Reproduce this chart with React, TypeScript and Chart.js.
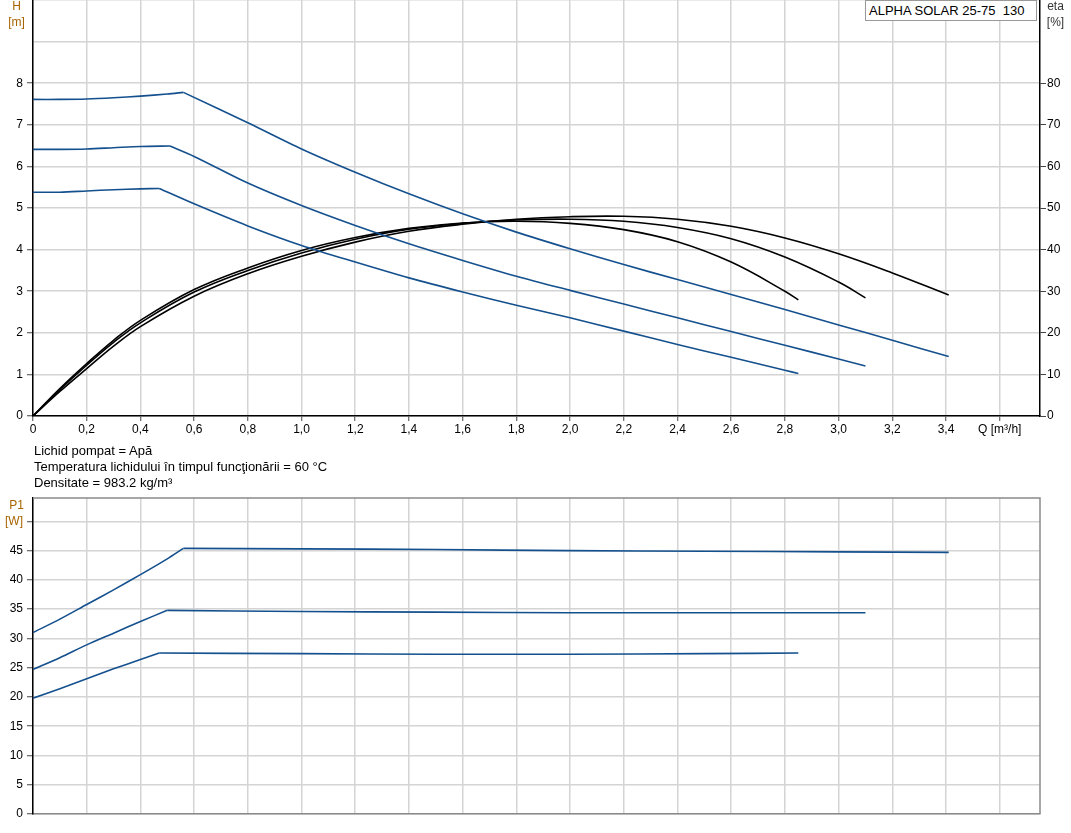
import React, { useEffect, useRef } from 'react';
import { Chart, registerables } from 'chart.js';

Chart.register(...registerables);

const FONT = "'Liberation Sans', Arial, sans-serif";
const BLUE = '#14508e';
const ORANGE = '#a86400';
const GRID = '#d4d4d4';
const TICK_MARK = '#444444';

// ---- axis ticks ----
const Q_TICKS = [0, 0.2, 0.4, 0.6, 0.8, 1.0, 1.2, 1.4, 1.6, 1.8, 2.0, 2.2, 2.4, 2.6, 2.8, 3.0, 3.2, 3.4, 3.6];
const Q_TICK_LABELS = ['0', '0,2', '0,4', '0,6', '0,8', '1,0', '1,2', '1,4', '1,6', '1,8', '2,0', '2,2', '2,4', '2,6', '2,8', '3,0', '3,2', '3,4', 'Q [m³/h]'];
const H_TICKS = [0, 1, 2, 3, 4, 5, 6, 7, 8, 9, 10];
const H_TICK_LABELS = ['0', '1', '2', '3', '4', '5', '6', '7', '8', '', ''];
const ETA_TICKS = [0, 10, 20, 30, 40, 50, 60, 70, 80, 90, 100];
const ETA_TICK_LABELS = ['0', '10', '20', '30', '40', '50', '60', '70', '80', '', ''];
const P1_TICKS = [0, 5, 10, 15, 20, 25, 30, 35, 40, 45, 50];
const P1_TICK_LABELS = ['0', '5', '10', '15', '20', '25', '30', '35', '40', '45', '[W]'];

// ---- H curves (m) ----
const Q_H_HIGH = [0, 0.1, 0.2, 0.3, 0.4, 0.5, 0.56, 0.8, 1.0, 1.2, 1.4, 1.6, 1.8, 2.0, 2.2, 2.4, 2.6, 2.8, 3.0, 3.2, 3.41];
const H_HIGH = [7.61, 7.61, 7.62, 7.65, 7.69, 7.74, 7.78, 7.05, 6.42, 5.86, 5.34, 4.86, 4.42, 4.02, 3.64, 3.28, 2.92, 2.56, 2.19, 1.82, 1.43];
const Q_H_MID = [0, 0.1, 0.2, 0.3, 0.4, 0.51, 0.6, 0.8, 1.0, 1.2, 1.4, 1.6, 1.8, 2.0, 2.2, 2.4, 2.6, 2.8, 3.0, 3.1];
const H_MID = [6.41, 6.41, 6.42, 6.45, 6.48, 6.49, 6.24, 5.6, 5.06, 4.58, 4.14, 3.74, 3.36, 3.02, 2.69, 2.36, 2.03, 1.7, 1.37, 1.2];
const Q_H_LOW = [0, 0.1, 0.2, 0.3, 0.4, 0.47, 0.6, 0.8, 1.0, 1.2, 1.4, 1.6, 1.8, 2.0, 2.2, 2.4, 2.6, 2.8, 2.85];
const H_LOW = [5.38, 5.38, 5.41, 5.44, 5.46, 5.47, 5.1, 4.57, 4.1, 3.7, 3.32, 2.98, 2.66, 2.36, 2.04, 1.72, 1.41, 1.1, 1.02];

// ---- efficiency curves (%) ----
const Q_ETA_LOW = [0, 0.1, 0.2, 0.3, 0.4, 0.6, 0.8, 1.0, 1.2, 1.4, 1.6, 1.8, 2.0, 2.2, 2.4, 2.6, 2.8, 2.85];
const ETA_LOW = [0, 6.6, 12.6, 18.2, 23.0, 30.4, 35.6, 39.8, 42.9, 45.1, 46.4, 46.8, 46.3, 44.8, 41.9, 37.0, 30.0, 27.9];
const Q_ETA_MID = [0, 0.1, 0.2, 0.3, 0.4, 0.6, 0.8, 1.0, 1.2, 1.4, 1.6, 1.8, 2.0, 2.2, 2.4, 2.6, 2.8, 3.0, 3.1];
const ETA_MID = [0, 6.3, 12.2, 17.7, 22.4, 29.8, 35.0, 39.2, 42.5, 44.9, 46.3, 47.1, 47.3, 46.8, 45.3, 42.6, 38.2, 32.2, 28.4];
const Q_ETA_HIGH = [0, 0.1, 0.2, 0.3, 0.4, 0.6, 0.8, 1.0, 1.2, 1.4, 1.6, 1.8, 2.0, 2.2, 2.4, 2.6, 2.8, 3.0, 3.2, 3.41];
const ETA_HIGH = [0, 5.9, 11.4, 16.8, 21.5, 28.8, 34.2, 38.4, 41.8, 44.4, 46.1, 47.3, 47.9, 48.0, 47.3, 45.6, 42.8, 39.0, 34.4, 29.1];

// ---- power curves (W) ----
const Q_P_HIGH = [0, 0.1, 0.2, 0.3, 0.4, 0.5, 0.56, 1.0, 1.5, 2.0, 2.5, 3.0, 3.41];
const P_HIGH = [31.0, 33.3, 35.8, 38.3, 40.9, 43.6, 45.4, 45.3, 45.2, 45.0, 44.9, 44.8, 44.7];
const Q_P_MID = [0, 0.1, 0.2, 0.3, 0.4, 0.5, 1.0, 1.5, 2.0, 2.5, 3.0, 3.1];
const P_MID = [24.7, 26.7, 28.9, 30.9, 32.9, 34.8, 34.6, 34.5, 34.4, 34.4, 34.4, 34.4];
const Q_P_LOW = [0, 0.1, 0.2, 0.3, 0.4, 0.47, 1.0, 1.5, 2.0, 2.5, 2.85];
const P_LOW = [19.8, 21.4, 23.1, 24.8, 26.4, 27.5, 27.4, 27.3, 27.3, 27.4, 27.5];

const INFO_LINES = [
  'Lichid pompat = Apă',
  'Temperatura lichidului în timpul funcţionării = 60 °C',
  'Densitate = 983.2 kg/m³',
];
const PUMP_LABEL = 'ALPHA SOLAR 25-75  130';

const pts = (xs: number[], ys: number[]) => xs.map((x, i) => ({ x, y: ys[i] }));

// split a curve at its knee (maximum) so each branch can be smoothed while the knee stays sharp
const branches = (xs: number[], ys: number[]) => {
  const k = ys.indexOf(Math.max(...ys));
  const all = pts(xs, ys);
  return [all.slice(0, k + 1), all.slice(k)];
};

const tickFont = { family: FONT, size: 12 };

const zeroVPad = (s: any) => { s.paddingTop = 0; s.paddingBottom = 0; };
const zeroHPad = (s: any) => { s.paddingLeft = 0; s.paddingRight = 0; };

function TopChart() {
  const ref = useRef<HTMLCanvasElement>(null);
  useEffect(() => {
    const blue = (q: number[], h: number[]) =>
      branches(q, h).map((d) => ({
        data: d, borderColor: BLUE, borderWidth: 1.6, pointRadius: 0, tension: 0.3, yAxisID: 'y', fill: false,
      }));
    const black = (q: number[], e: number[]) => ({
      data: pts(q, e), borderColor: '#000', borderWidth: 1.6, pointRadius: 0, tension: 0.4, yAxisID: 'y2', fill: false,
    });
    const chart = new Chart(ref.current!, {
      type: 'line',
      data: {
        datasets: [
          ...blue(Q_H_HIGH, H_HIGH), ...blue(Q_H_MID, H_MID), ...blue(Q_H_LOW, H_LOW),
          black(Q_ETA_LOW, ETA_LOW), black(Q_ETA_MID, ETA_MID), black(Q_ETA_HIGH, ETA_HIGH),
        ] as any,
      },
      options: {
        responsive: false,
        animation: false,
        layout: { padding: 0 },
        plugins: { legend: { display: false }, tooltip: { enabled: false } },
        scales: {
          x: {
            type: 'linear', min: 0, max: 3.75,
            afterBuildTicks: (s: any) => { s.ticks = Q_TICKS.map((v) => ({ value: v })); },
            afterFit: (s: any) => { s.height = 24; zeroHPad(s); },
            ticks: { font: tickFont, color: '#000', padding: 1, maxRotation: 0, autoSkip: false, callback: (_v: any, i: number) => Q_TICK_LABELS[i] },
            grid: { color: GRID, lineWidth: 1.5, tickLength: 5, tickColor: TICK_MARK, tickWidth: 1 },
            border: { color: '#000', width: 1.5 },
          },
          y: {
            type: 'linear', position: 'left', min: 0, max: 10,
            afterBuildTicks: (s: any) => { s.ticks = H_TICKS.map((v) => ({ value: v })); },
            afterFit: (s: any) => { s.width = 33; zeroVPad(s); },
            ticks: { font: tickFont, color: '#000', padding: 4, autoSkip: false, callback: (_v: any, i: number) => H_TICK_LABELS[i] },
            grid: {
              color: GRID, lineWidth: 1.5, tickLength: 6, tickWidth: 1,
              tickColor: (c: any) => (H_TICK_LABELS[c.index] ? TICK_MARK : 'rgba(0,0,0,0)'),
            },
            border: { color: '#000', width: 1.5 },
          },
          y2: {
            type: 'linear', position: 'right', min: 0, max: 100,
            afterBuildTicks: (s: any) => { s.ticks = ETA_TICKS.map((v) => ({ value: v })); },
            afterFit: (s: any) => { s.width = 31; zeroVPad(s); },
            ticks: { font: tickFont, color: '#000', padding: 1, autoSkip: false, callback: (_v: any, i: number) => ETA_TICK_LABELS[i] },
            grid: {
              drawOnChartArea: false, tickLength: 6, tickWidth: 1,
              tickColor: (c: any) => (ETA_TICK_LABELS[c.index] ? TICK_MARK : 'rgba(0,0,0,0)'),
            },
            border: { color: '#000', width: 1.5 },
          },
        },
      } as any,
    });
    return () => chart.destroy();
  }, []);
  return <canvas ref={ref} width={1071} height={440} style={{ position: 'absolute', left: 0, top: 0 }} />;
}

function BottomChart() {
  const ref = useRef<HTMLCanvasElement>(null);
  useEffect(() => {
    const blue = (q: number[], p: number[]) =>
      branches(q, p).map((d) => ({
        data: d, borderColor: BLUE, borderWidth: 1.6, pointRadius: 0, tension: 0.3, fill: false,
      }));
    const framePlugin = {
      id: 'frame',
      afterDatasetsDraw(chart: any) {
        const { ctx, chartArea: a } = chart;
        ctx.save();
        ctx.strokeStyle = '#8a8a8a';
        ctx.lineWidth = 1.5;
        ctx.beginPath();
        ctx.moveTo(a.left, a.top);
        ctx.lineTo(a.right, a.top);
        ctx.lineTo(a.right, a.bottom);
        ctx.stroke();
        ctx.restore();
      },
    };
    const chart = new Chart(ref.current!, {
      type: 'line',
      data: { datasets: [...blue(Q_P_HIGH, P_HIGH), ...blue(Q_P_MID, P_MID), ...blue(Q_P_LOW, P_LOW)] as any },
      options: {
        responsive: false,
        animation: false,
        layout: { padding: { top: 18, right: 31, left: 0, bottom: 0 } },
        plugins: { legend: { display: false }, tooltip: { enabled: false } },
        scales: {
          x: {
            type: 'linear', min: 0, max: 3.75,
            afterBuildTicks: (s: any) => { s.ticks = Q_TICKS.map((v) => ({ value: v })); },
            afterFit: (s: any) => { s.height = 19; zeroHPad(s); },
            ticks: { display: false },
            grid: { color: GRID, lineWidth: 1.5, drawTicks: false },
            border: { color: '#8a8a8a', width: 1.5 },
          },
          y: {
            type: 'linear', position: 'left', min: 0, max: 54,
            afterBuildTicks: (s: any) => { s.ticks = P1_TICKS.map((v) => ({ value: v })); },
            afterFit: (s: any) => { s.width = 33; zeroVPad(s); },
            ticks: {
              font: tickFont, padding: 4, autoSkip: false,
              color: (c: any) => (c.index === P1_TICKS.length - 1 ? ORANGE : '#000'),
              callback: (_v: any, i: number) => P1_TICK_LABELS[i],
            },
            grid: { color: GRID, lineWidth: 1.5, tickLength: 6, tickWidth: 1, tickColor: TICK_MARK },
            border: { color: '#000', width: 1.5 },
          },
        },
      } as any,
      plugins: [framePlugin],
    });
    return () => chart.destroy();
  }, []);
  return <canvas ref={ref} width={1071} height={353} style={{ position: 'absolute', left: 0, top: 480 }} />;
}

export default function App() {
  const txt: React.CSSProperties = { position: 'absolute', fontFamily: FONT, whiteSpace: 'pre' };
  return (
    <div style={{ position: 'absolute', left: 0, top: 0, width: 1071, height: 833, background: '#fff', overflow: 'hidden' }}>
      <TopChart />
      <BottomChart />
      <div style={{ ...txt, left: 0, top: -2, width: 33, textAlign: 'center', fontSize: 12, lineHeight: '16px', color: ORANGE }}>
        H{'\n'}[m]
      </div>
      <div style={{ ...txt, left: 1040, top: -2, width: 31, textAlign: 'center', fontSize: 12, lineHeight: '16px', color: '#333' }}>
        eta{'\n'}[%]
      </div>
      <div style={{ ...txt, left: 865, top: 0, width: 172, height: 21, border: '1px solid #999', background: '#fff', fontSize: 13, lineHeight: '19px', color: '#000', paddingLeft: 3, boxSizing: 'border-box' }}>
        {PUMP_LABEL}
      </div>
      <div style={{ ...txt, left: 34, top: 443, fontSize: 13, lineHeight: '16px', color: '#000' }}>
        {INFO_LINES.join('\n')}
      </div>
      <div style={{ ...txt, left: 0, top: 497, width: 33, textAlign: 'center', fontSize: 12, lineHeight: '16px', color: ORANGE }}>
        P1
      </div>
    </div>
  );
}
